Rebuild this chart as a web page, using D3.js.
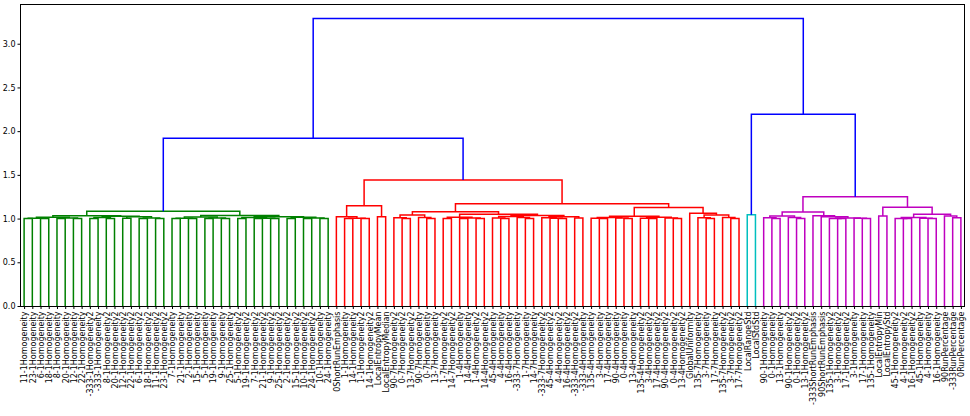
<!DOCTYPE html>
<html>
<head>
<meta charset="utf-8">
<script src="https://cdn.jsdelivr.net/npm/d3@7"></script>
<style>
body { margin: 0; background: #fff; }
text { font-family: "DejaVu Sans", sans-serif; }
</style>
</head>
<body>
<div id="plot"></div>
<script>
// leaves, in the order the dendrogram shows them
const leafLabels = [
	'11-1Homogeneity', '23-1Homogeneity', '6-1Homogeneity', '18-1Homogeneity', '8-1Homogeneity',
	'20-1Homogeneity', '12-1Homogeneity', '22-1Homogeneity', '-333-1Homogeneity2', '-333-1Homogeneity',
	'8-1Homogeneity2', '20-1Homogeneity2', '12-1Homogeneity2', '22-1Homogeneity2', '6-1Homogeneity2',
	'18-1Homogeneity2', '11-1Homogeneity2', '23-1Homogeneity2', '7-1Homogeneity', '21-1Homogeneity',
	'2-1Homogeneity', '15-1Homogeneity', '5-1Homogeneity', '19-1Homogeneity', '9-1Homogeneity',
	'25-1Homogeneity', '5-1Homogeneity2', '19-1Homogeneity2', '7-1Homogeneity2', '21-1Homogeneity2',
	'9-1Homogeneity2', '25-1Homogeneity2', '2-1Homogeneity2', '15-1Homogeneity2', '10-1Homogeneity2',
	'24-1Homogeneity2', '10-1Homogeneity', '24-1Homogeneity', '0ShortRunEmphasis', '1-1Homogeneity',
	'14-1Homogeneity', '1-1Homogeneity2', '14-1Homogeneity2', 'LocalEntropyMean', 'LocalEntropyMedian',
	'90-7Homogeneity2', '0-7Homogeneity2', '13-7Homogeneity2', '90-7Homogeneity', '0-7Homogeneity',
	'13-7Homogeneity', '1-7Homogeneity2', '14-7Homogeneity2', '1-4Homogeneity', '14-4Homogeneity',
	'1-4Homogeneity2', '14-4Homogeneity2', '45-4Homogeneity', '4-4Homogeneity', '16-4Homogeneity',
	'-333-7Homogeneity', '1-7Homogeneity', '14-7Homogeneity', '-333-7Homogeneity2', '45-4Homogeneity2',
	'4-4Homogeneity2', '16-4Homogeneity2', '-333-4Homogeneity2', '-333-4Homogeneity', '135-4Homogeneity',
	'3-4Homogeneity', '17-4Homogeneity', '90-4Homogeneity', '0-4Homogeneity', '13-4Homogeneity',
	'135-4Homogeneity2', '3-4Homogeneity2', '17-4Homogeneity2', '90-4Homogeneity2', '0-4Homogeneity2',
	'13-4Homogeneity2', 'GlobalUniformity', '135-7Homogeneity', '3-7Homogeneity', '17-7Homogeneity',
	'135-7Homogeneity2', '3-7Homogeneity2', '17-7Homogeneity2', 'LocalRangeStd', 'LocalStdStd',
	'90-1Homogeneity', '0-1Homogeneity', '13-1Homogeneity', '90-1Homogeneity2', '0-1Homogeneity2',
	'13-1Homogeneity2', '-333ShortRunEmphasis', '90ShortRunEmphasis', '135-1Homogeneity2', '3-1Homogeneity2',
	'17-1Homogeneity2', '3-1Homogeneity', '17-1Homogeneity', '135-1Homogeneity', 'LocalEntropyMin',
	'LocalEntropyStd', '45-1Homogeneity2', '4-1Homogeneity2', '16-1Homogeneity2', '45-1Homogeneity',
	'4-1Homogeneity', '16-1Homogeneity', '90RunPercentage', '-333RunPercentage', '0RunPercentage'
];

// clusters: [height, left, right], a plain number is a leaf index
const greenTree = [1.085,
	[1.032,
		[1.015, [1.004, [1.0, 0, 1], [1.0, 2, 3]], [1.006, [1.0, 4, 5], [1.0, 6, 7]]],
		[1.028, [1.012, [1.0, 8, 9], [1.0, 10, 11]], [1.02, [1.003, 12, 13], [1.008, [1.0, 14, 15], [1.0, 16, 17]]]]],
	[1.036,
		[1.018, [1.004, [1.0, 18, 19], [1.0, 20, 21]], [1.006, [1.0, 22, 23], [1.0, 24, 25]]],
		[1.022,
			[1.012, [1.0, 26, 27], [1.004, [1.0, 28, 29], [1.0, 30, 31]]],
			[1.015, [1.0, 32, 33], [1.006, [1.0, 34, 35], [1.0, 36, 37]]]]]];

const redTree = [1.44,
	[1.146, [1.02, 38, [1.005, [1.0, 39, 40], [1.0, 41, 42]]], [1.02, 43, 44]],
	[1.17,
		[1.078,
			[1.04, [1.01, 45, [1.0, 46, 47]], [1.012, 48, [1.0, 49, 50]]],
			[1.05,
				[1.015, [1.0, 51, 52], [1.006, [1.0, 53, 54], [1.0, 55, 56]]],
				[1.036,
					[1.025, [1.008, 57, [1.0, 58, 59]], [1.012, 60, [1.0, 61, 62]]],
					[1.022, [1.01, 63, [1.004, 64, [1.0, 65, 66]]], [1.006, 67, 68]]]]],
		[1.128,
			[1.026,
				[1.012, [1.004, 69, [1.0, 70, 71]], [1.006, 72, [1.0, 73, 74]]],
				[1.015, [1.004, 75, [1.0, 76, 77]], [1.008, 78, [1.0, 79, 80]]]],
			[1.06, 81, [1.04, [1.01, 82, [1.0, 83, 84]], [1.012, 85, [1.0, 86, 87]]]]]]];

const cyanTree = [1.044, 88, 89];

const purpleTree = [1.25,
	[1.074,
		[1.03, [1.01, 90, [1.0, 91, 92]], [1.012, 93, [1.0, 94, 95]]],
		[1.032, 96, [1.02, 97, [1.008, [1.0, 98, [1.0, 99, 100]], [1.003, 101, [1.0, 102, 103]]]]]],
	[1.13,
		[1.03, 104, 105],
		[1.05,
			[1.012, [1.0, 106, [1.0, 107, 108]], [1.004, 109, [1.0, 110, 111]]],
			[1.03, 112, [1.01, 113, 114]]]]];

// the blue links above the clusters
const topHeights = {greenRed: 1.92, cyanPurple: 2.194, root: 3.29};

const yTicks = [0, 0.5, 1.0, 1.5, 2.0, 2.5, 3.0];

const colours = {green: '#008000', red: '#ff0000', cyan: '#00bfbf', purple: '#bf00bf', above: '#0000ff'};

var Amplada = 970, Alçada = 416;
var marge = {left: 20, right: 5, top: 4, bottom: 110};

var plot = d3.select('#plot')
	.append('svg')
		.attr('width', Amplada)
		.attr('height', Alçada);

const N = leafLabels.length;
// scipy puts leaf i at 5 + 10*i
const x = d3.scaleLinear()
	.domain([0, 10 * N])
	.range([marge.left, Amplada - marge.right]);
const y = d3.scaleLinear()
	.domain([0, topHeights.root * 1.05])
	.range([Alçada - marge.bottom, marge.top]);

const links = [];

function joint(h, a, b, colour) {
	links.push({a: a, b: b, h: h, colour: colour});
	return {pos: (a.pos + b.pos) / 2, h: h};
}

function place(node, colour) {
	if (typeof node === 'number') return {pos: 5 + 10 * node, h: 0};
	const a = place(node[1], colour);
	const b = place(node[2], colour);
	return joint(node[0], a, b, colour);
}

const g = place(greenTree, colours.green);
const r = place(redTree, colours.red);
const c = place(cyanTree, colours.cyan);
const p = place(purpleTree, colours.purple);
const gr = joint(topHeights.greenRed, g, r, colours.above);
const cp = joint(topHeights.cyanPurple, c, p, colours.above);
joint(topHeights.root, gr, cp, colours.above);

// frame
plot.append('rect')
	.attr('x', marge.left + 0.5)
	.attr('y', marge.top + 0.5)
	.attr('width', Amplada - marge.left - marge.right - 1)
	.attr('height', Alçada - marge.top - marge.bottom)
	.attr('fill', 'none')
	.attr('stroke', '#000')
	.attr('stroke-width', 1);

plot.append('g')
	.selectAll('path')
	.data(links)
	.enter()
	.append('path')
		.attr('d', d => `M${x(d.a.pos)},${y(d.a.h)}V${y(d.h)}H${x(d.b.pos)}V${y(d.b.h)}`)
		.attr('fill', 'none')
		.attr('stroke', d => d.colour)
		.attr('stroke-width', 1.5);

// y axis
const axY = plot.append('g')
	.attr('transform', `translate(${marge.left + 0.5},0)`)
	.call(d3.axisLeft(y).tickValues(yTicks).tickFormat(d3.format('.1f')).tickSize(3).tickPadding(2));
axY.select('.domain').remove();
axY.selectAll('text')
	.attr('font-size', 8)
	.attr('font-family', '"DejaVu Sans", sans-serif')
	.attr('fill', '#000');

// x axis with rotated leaf names
const axX = plot.append('g')
	.attr('transform', `translate(0,${Alçada - marge.bottom + 0.5})`)
	.call(d3.axisBottom(x)
		.tickValues(leafLabels.map((_, i) => 5 + 10 * i))
		.tickFormat((_, i) => leafLabels[i])
		.tickSize(2.5));
axX.select('.domain').remove();
axX.selectAll('text')
	.attr('font-size', 8)
	.attr('font-family', '"DejaVu Sans", sans-serif')
	.attr('fill', '#000')
	.attr('text-anchor', 'end')
	.attr('transform', 'rotate(-90)')
	.attr('x', -5)
	.attr('y', 0)
	.attr('dy', '0.35em');
</script>
</body>
</html>
